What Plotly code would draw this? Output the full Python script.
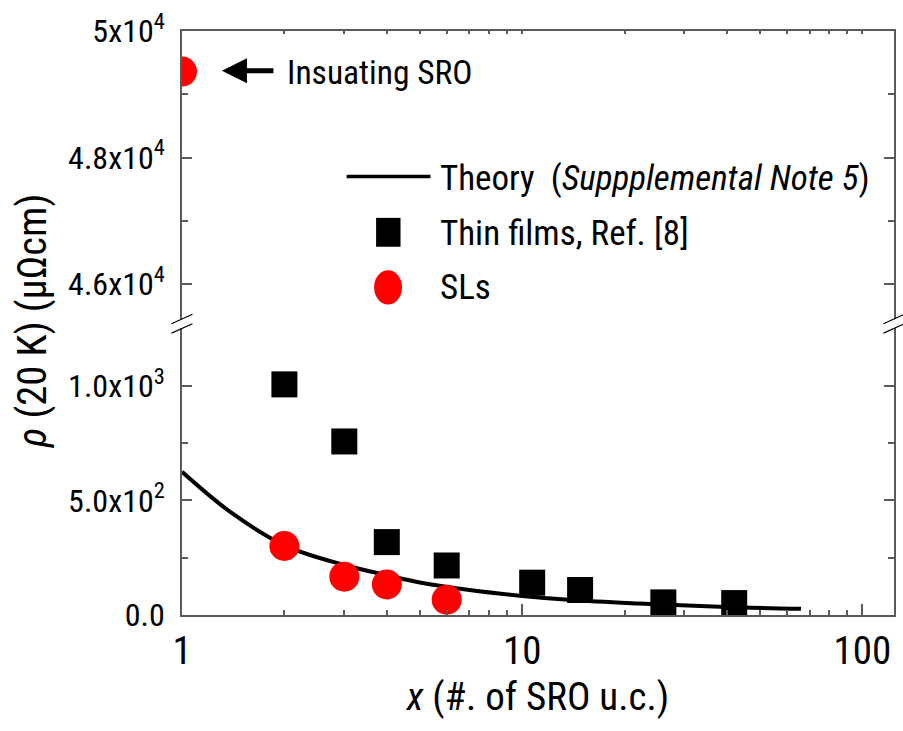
import plotly.graph_objects as go

# ---- data ----
theory_x = [1, 1.4, 2, 3, 4, 5, 7, 10, 14, 22, 38, 66]
theory_y = [625, 445, 304, 218, 174, 142, 109, 83, 65, 50, 36, 27]

films_x = [2, 3, 4, 6, 10.7, 14.8, 26, 42]
films_y = [1006, 757, 318, 216, 141, 109, 55, 52]

sl_x = [2, 3, 4, 6]
sl_y = [301, 167, 133, 67]

insulating_x = [1]
insulating_y = [49360]

x_tickvals = [1, 10, 100]
x_ticktext = ["1", "10", "100"]
x_minor = [2, 3, 4, 5, 6, 7, 8, 9, 20, 30, 40, 50, 60, 70, 80, 90]

low_tickvals = [0, 500, 1000]
low_ticktext = ["0.0", "5.0x10<sup>2</sup>", "1.0x10<sup>3</sup>"]
low_minor = [250, 750]

high_tickvals = [46000, 48000, 50000]
high_ticktext = ["4.6x10<sup>4</sup>", "4.8x10<sup>4</sup>", "5x10<sup>4</sup>"]
high_minor = [47000, 49000]

FONT = "Roboto Condensed, Liberation Sans, sans-serif"
AXIS_COLOR = "#5a5a5a"

# ---- layout geometry (pixels) ----
W, H = 903, 731
ML, MR, MT, MB = 182, 7.5, 29, 116
PW = W - ML - MR
PH = H - MT - MB


def px(xp):
    return (xp - ML) / PW


def py(yp):
    return (H - MB - yp) / PH


low_dom = [0, py(327)]
high_dom = [py(318), 1]

fig = go.Figure()

fig.add_trace(go.Scatter(
    x=theory_x, y=theory_y, mode="lines", line=dict(color="black", width=4, shape="spline"),
    xaxis="x", yaxis="y", showlegend=False))
fig.add_trace(go.Scatter(
    x=films_x, y=films_y, mode="markers",
    marker=dict(symbol="square", size=26, color="black"),
    xaxis="x", yaxis="y", showlegend=False))
fig.add_trace(go.Scatter(
    x=sl_x, y=sl_y, mode="markers",
    marker=dict(symbol="circle", size=30, color="#ff0000"),
    xaxis="x", yaxis="y", showlegend=False))
fig.add_trace(go.Scatter(
    x=insulating_x, y=insulating_y, mode="markers",
    marker=dict(symbol="circle", size=30, color="#ff0000"),
    xaxis="x2", yaxis="y2", showlegend=False))

xr = [0, 2.093]
common_axis = dict(showline=True, linecolor=AXIS_COLOR, linewidth=1.5,
                   ticks="inside", tickcolor=AXIS_COLOR, tickwidth=1.5,
                   showgrid=False, zeroline=False)

fig.update_layout(
    width=W, height=H,
    margin=dict(l=ML, r=MR, t=MT, b=MB),
    paper_bgcolor="white", plot_bgcolor="white",
    font=dict(family=FONT, color="black"),
    xaxis=dict(type="log", range=xr, domain=[0, 1], anchor="y",
               tickmode="array", tickvals=x_tickvals, ticktext=x_ticktext, ticklen=11,
               tickfont=dict(size=39), ticklabelstandoff=0,
               minor=dict(tickmode="array", tickvals=x_minor, ticks="inside", ticklen=5,
                          tickcolor=AXIS_COLOR, tickwidth=1.5),
               title=dict(text="<i>x</i> (#. of SRO u.c.)", font=dict(size=39), standoff=5),
               **common_axis),
    xaxis2=dict(type="log", range=xr, domain=[0, 1], anchor="y2", side="top", matches="x",
                tickmode="array", tickvals=x_tickvals, showticklabels=False, ticklen=3,
                minor=dict(tickmode="array", tickvals=x_minor, ticks="inside", ticklen=3,
                           tickcolor=AXIS_COLOR, tickwidth=1.5),
                **common_axis),
    yaxis=dict(domain=low_dom, range=[0, 1252], anchor="x", mirror="ticks",
               tickmode="array", tickvals=low_tickvals, ticktext=low_ticktext, ticklen=10,
               tickfont=dict(size=32), ticklabelstandoff=9,
               minor=dict(tickmode="array", tickvals=low_minor, ticks="inside", ticklen=6,
                          tickcolor=AXIS_COLOR, tickwidth=1.5),
               **common_axis),
    yaxis2=dict(domain=high_dom, range=[45449, 50001], anchor="x2", mirror="ticks",
                tickmode="array", tickvals=high_tickvals, ticktext=high_ticktext, ticklen=10,
                tickfont=dict(size=32), ticklabelstandoff=9,
                minor=dict(tickmode="array", tickvals=high_minor, ticks="inside", ticklen=6,
                           tickcolor=AXIS_COLOR, tickwidth=1.5),
                **common_axis),
)

# y-axis title spanning both panels
fig.add_annotation(text="<i>ρ</i> (20 K) (μΩcm)", xref="paper", yref="paper",
                   x=px(32), y=py(320), textangle=-90, showarrow=False,
                   font=dict(size=40.5), xanchor="center", yanchor="middle")

# arrow pointing at the insulating point
fig.add_annotation(text="", xref="paper", yref="paper", x=px(222), y=py(69),
                   ax=53, ay=0, axref="pixel", ayref="pixel",
                   showarrow=True, arrowhead=2, arrowwidth=5, arrowsize=1.0, arrowcolor="black")
fig.add_annotation(text="Insuating SRO", xref="paper", yref="paper", x=px(285), y=py(71),
                   xanchor="left", yanchor="middle", showarrow=False, font=dict(size=33.5))

# legend, drawn by hand
shapes = [
    dict(type="line", xref="paper", yref="paper", x0=px(347), x1=px(431), y0=py(175), y1=py(175),
         line=dict(color="black", width=3.5)),
    dict(type="rect", xref="paper", yref="paper", x0=px(376.5), x1=px(401), y0=py(245.5), y1=py(216.5),
         fillcolor="black", line=dict(width=0)),
    dict(type="circle", xref="paper", yref="paper", x0=px(374.5), x1=px(402.5), y0=py(303.5), y1=py(269),
         fillcolor="#ff0000", line=dict(width=0)),
]
legend_text = [
    ("Theory\u00a0 (<i>Suppplemental Note 5</i>)", 177),
    ("Thin films, Ref. [8]", 232),
    ("SLs", 286),
]
for txt, yy in legend_text:
    fig.add_annotation(text=txt, xref="paper", yref="paper", x=px(439), y=py(yy),
                       xanchor="left", yanchor="middle", showarrow=False, font=dict(size=35))

# axis break marks
for xc in (182, 895.5):
    for dy in (0, 9.5):
        shapes.append(dict(type="line", xref="paper", yref="paper",
                           x0=px(xc - 10.5), y0=py(322.7 + dy), x1=px(xc + 10.5), y1=py(313.2 + dy),
                           line=dict(color="black", width=1.2)))
fig.update_layout(shapes=shapes)

fig.write_html("out.html")
